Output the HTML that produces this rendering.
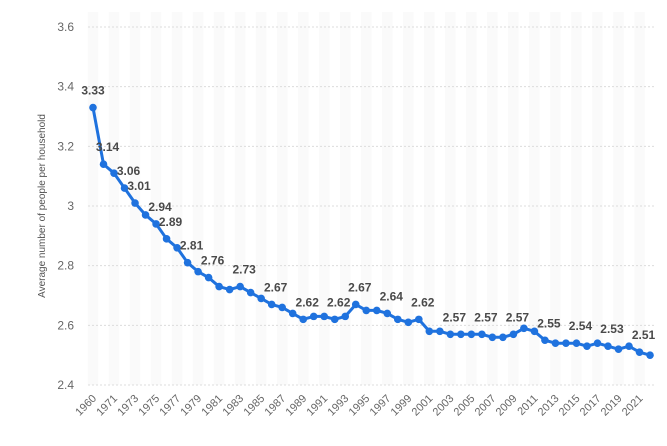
<!DOCTYPE html>
<html><head><meta charset="utf-8"><style>
body{margin:0;background:#fff;font-family:"Liberation Sans",sans-serif}
svg{display:block}
</style></head><body>
<svg id="c" width="667" height="446"></svg>
<script>
const years=[1960,1970,1971,1972,1973,1974,1975,1976,1977,1978,1979,1980,1981,1982,1983,1984,1985,1986,1987,1988,1989,1990,1991,1992,1993,1994,1995,1996,1997,1998,1999,2000,2001,2002,2003,2004,2005,2006,2007,2008,2009,2010,2011,2012,2013,2014,2015,2016,2017,2018,2019,2020,2021,2022];
const values=[3.33,3.14,3.11,3.06,3.01,2.97,2.94,2.89,2.86,2.81,2.78,2.76,2.73,2.72,2.73,2.71,2.69,2.67,2.66,2.64,2.62,2.63,2.63,2.62,2.63,2.67,2.65,2.65,2.64,2.62,2.61,2.62,2.58,2.58,2.57,2.57,2.57,2.57,2.56,2.56,2.57,2.59,2.58,2.55,2.54,2.54,2.54,2.53,2.54,2.53,2.52,2.53,2.51,2.50];
const labeledYears=[1960,1970,1972,1973,1975,1976,1978,1980,1983,1986,1989,1992,1994,1997,2000,2003,2006,2009,2012,2015,2018,2021];
const yTicks=[2.4,2.6,2.8,3,3.2,3.4,3.6];
const NS="http://www.w3.org/2000/svg";
const svg=document.getElementById('c');
const X0=93,STEP=10.51,Y0=385,YTOP=27,VMIN=2.4,VMAX=3.6;
const x=i=>X0+i*STEP;
const y=v=>Y0-(v-VMIN)/(VMAX-VMIN)*(Y0-YTOP);
function mk(t,a){const e=document.createElementNS(NS,t);for(const k in a)e.setAttribute(k,a[k]);svg.appendChild(e);return e;}
years.forEach((yr,i)=>{if(i%2===0){const r=mk('rect',{x:x(i)-STEP/2,y:12,width:STEP,height:Y0-12,fill:'#fafafa'});

}});
yTicks.forEach(t=>{const l=mk('line',{x1:88,x2:655,y1:y(t),y2:y(t),stroke:'#dcdcdc','stroke-dasharray':'2,2'});


const tx=mk('text',{x:74,y:y(t)+4,'text-anchor':'end','font-size':12,fill:'#666'});tx.textContent=String(t);

});
const yt=mk('text',{transform:'translate(45,206) rotate(-90)','text-anchor':'middle','font-size':10,fill:'#555'});
yt.textContent='Average number of people per household';


years.forEach((yr,i)=>{if(i%2===0){const tx=mk('text',{transform:`translate(${x(i)+4},${Y0+14}) rotate(-45)`,'text-anchor':'end','font-size':11,fill:'#666'});tx.textContent=yr;

}});
const pl=mk('polyline',{points:values.map((v,i)=>x(i)+','+y(v)).join(' '),fill:'none',stroke:'#1f72de','stroke-width':3,'stroke-linejoin':'round'});


values.forEach((v,i)=>{const c=mk('circle',{cx:x(i),cy:y(v),r:3.8,fill:'#1f72de'});

});
years.forEach((yr,i)=>{if(labeledYears.includes(yr)){const tx=mk('text',{x:x(i)+(i===0?0:4),y:y(values[i])-13,'text-anchor':'middle','font-size':12,'font-weight':'bold',fill:'#4a4a4a'});tx.textContent=values[i].toFixed(2);

}});
</script>
</body></html>
